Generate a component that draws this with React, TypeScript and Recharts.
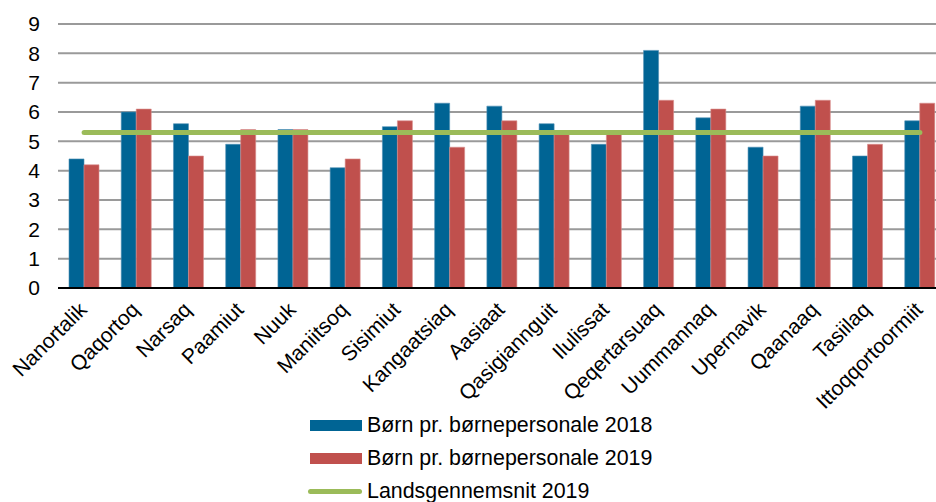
import React from 'react';
import { ComposedChart, Bar, Line, XAxis, YAxis, CartesianGrid, Legend } from 'recharts';

const categories = [
  'Nanortalik', 'Qaqortoq', 'Narsaq', 'Paamiut', 'Nuuk', 'Maniitsoq', 'Sisimiut',
  'Kangaatsiaq', 'Aasiaat', 'Qasigiannguit', 'Ilulissat', 'Qeqertarsuaq', 'Uummannaq',
  'Upernavik', 'Qaanaaq', 'Tasiilaq', 'Ittoqqortoormiit',
];
const values2018 = [4.4, 6.0, 5.6, 4.9, 5.4, 4.1, 5.5, 6.3, 6.2, 5.6, 4.9, 8.1, 5.8, 4.8, 6.2, 4.5, 5.7];
const values2019 = [4.2, 6.1, 4.5, 5.4, 5.4, 4.4, 5.7, 4.8, 5.7, 5.3, 5.3, 6.4, 6.1, 4.5, 6.4, 4.9, 6.3];
const nationalAverage2019 = 5.3;
const yTicks = [0, 1, 2, 3, 4, 5, 6, 7, 8, 9];
const seriesNames = ['Børn pr. børnepersonale 2018', 'Børn pr. børnepersonale 2019', 'Landsgennemsnit 2019'];

const data = categories.map((name, i) => ({
  name,
  v2018: values2018[i],
  v2019: values2019[i],
  avg: nationalAverage2019,
}));

const FONT = '"Liberation Sans", Arial, sans-serif';
const BLUE = '#006494';
const RED = '#C0504D';
const GREEN = '#9BBB59';

const XTick = (props: any) => {
  const { x, y, payload } = props;
  return (
    <g transform={`translate(${x + 4},${y + 23})`}>
      <text transform="rotate(-45)" textAnchor="end" fontSize={21} fontFamily={FONT} fill="#000">
        {payload.value}
      </text>
    </g>
  );
};

const LegendContent = (props: any) => {
  const payload = props.payload || [];
  return (
    <div style={{ fontFamily: FONT, fontSize: 21.4, color: '#000' }}>
      {payload.map((entry: any, i: number) => {
        const isLine = entry.type === 'line' || i === 2;
        return (
          <div key={i} style={{ display: 'flex', alignItems: 'center', height: 33, whiteSpace: 'nowrap' }}>
            {isLine ? (
              <span style={{ display: 'inline-block', width: 54, height: 5, borderRadius: 3, background: entry.color, marginLeft: -2, marginRight: 5 }} />
            ) : (
              <span style={{ display: 'inline-block', width: 52, height: 11, background: entry.color, marginRight: 5 }} />
            )}
            <span style={{ lineHeight: '33px' }}>{entry.value}</span>
          </div>
        );
      })}
    </div>
  );
};

export default function App() {
  return (
    <div style={{ position: 'fixed', top: 0, left: 0, width: 936, height: 502, overflow: 'hidden', background: '#fff' }}>
      <ComposedChart
        width={950}
        height={502}
        data={data}
        margin={{ top: 24, right: 4, bottom: 94, left: 0 }}
        barGap={0}
      >
        <CartesianGrid vertical={false} stroke="#9a9a9a" strokeWidth={2} />
        <XAxis
          dataKey="name"
          interval={0}
          height={120}
          tickLine={false}
          tickSize={0}
          tickMargin={0}
          axisLine={{ stroke: '#000', strokeWidth: 2 }}
          tick={<XTick />}
        />
        <YAxis
          width={58}
          domain={[0, 9]}
          ticks={yTicks}
          interval={0}
          axisLine={false}
          tickLine={false}
          tickSize={0}
          tickMargin={18}
          tick={{ fontSize: 21, fontFamily: FONT, fill: '#000' }}
        />
        <Legend
          layout="horizontal"
          verticalAlign="middle"
          align="center"
          wrapperStyle={{ left: 310, top: 409, width: 420 }}
          content={<LegendContent />}
        />
        <Bar dataKey="v2018" name={seriesNames[0]} fill={BLUE} stroke="#4f8fb3" strokeWidth={0.6} barSize={15} isAnimationActive={false} />
        <Bar dataKey="v2019" name={seriesNames[1]} fill={RED} stroke="#d98f8d" strokeWidth={0.6} barSize={15} isAnimationActive={false} />
        <Line
          dataKey="avg"
          name={seriesNames[2]}
          stroke={GREEN}
          strokeWidth={5}
          strokeLinecap="round"
          dot={false}
          activeDot={false}
          legendType="line"
          isAnimationActive={false}
        />
      </ComposedChart>
    </div>
  );
}
